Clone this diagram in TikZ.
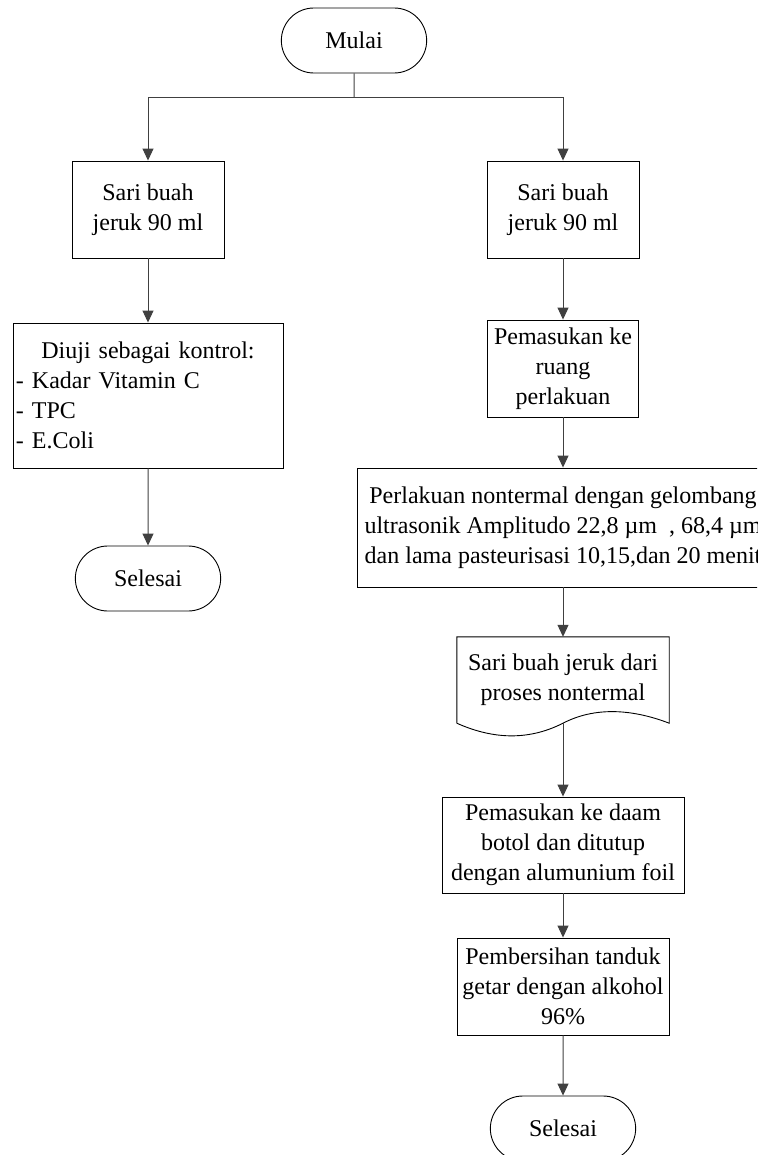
\documentclass[tikz,border=0pt]{standalone}
\usepackage{fontspec}
\setmainfont{Liberation Serif}
\usetikzlibrary{arrows.meta}
\usetikzlibrary{shapes.misc}

\tikzset{
  proses/.style={draw=black, line width=0.9pt, rectangle, align=center, inner sep=2pt},
  terminal/.style={draw=black, line width=0.9pt, rounded rectangle, align=center,
    minimum width=152pt, minimum height=65pt},
  garis/.style={draw=black!75, line width=1pt},
  panah/.style={garis, -{Triangle[length=12pt,width=11pt]}}
}

\begin{document}
\begin{tikzpicture}[x=1pt,y=-1pt,font=\fontsize{24}{30}\selectfont]

    \useasboundingbox (0,0) rectangle (757,1155);
    \clip (0,0) rectangle (757,1155);

    % start
    \node[terminal] (mulai) at (354,40.5) {Mulai};
    \coordinate (cabang) at (354,98);

    % left branch (control)
    \node[proses, minimum width=152pt, minimum height=97pt] (sari1) at (148,209.5)
      {Sari buah\\jeruk 90 ml};
    \node[proses, minimum width=270pt, minimum height=145pt, text width=264pt, align=left] (kontrol) at (148,395.5)
      {\hfil Diuji sebagai kontrol:\hfil\\- Kadar Vitamin C\\- TPC\\- E.Coli};
    \node[terminal] (selesai1) at (148,578.5) {Selesai};

    % right branch (treatment)
    \node[proses, minimum width=152pt, minimum height=97pt] (sari2) at (563,209.5)
      {Sari buah\\jeruk 90 ml};
    \node[proses, minimum width=151pt, minimum height=97pt] (masuk) at (563,368.5)
      {Pemasukan ke\\ruang\\perlakuan};
    \node[proses, minimum width=412pt, minimum height=119pt] (perlakuan) at (563,527.5)
      {Perlakuan nontermal dengan gelombang\\ultrasonik Amplitudo 22,8 µm~ , 68,4 µm\\dan lama pasteurisasi 10,15,dan 20 menit};

    % document shape with wavy bottom
    \node[align=center, minimum width=212pt, minimum height=86pt, inner sep=0pt] (dokumen) at (563,680)
      {Sari buah jeruk dari\\proses nontermal};
    \draw[line width=0.9pt] (dokumen.south west) -- (dokumen.north west) -- (dokumen.north east)
      -- (dokumen.south east)
      .. controls (640,712) and (600,704) .. (dokumen.south)
      .. controls (526,742) and (490,738) .. (dokumen.south west);

    \node[proses, minimum width=242pt, minimum height=96pt] (botol) at (563,845)
      {Pemasukan ke daam\\botol dan ditutup\\dengan alumunium foil};
    \node[proses, minimum width=212pt, minimum height=97pt] (bersih) at (563,986.5)
      {Pembersihan tanduk\\getar dengan alkohol\\96\%};
    \node[terminal] (selesai2) at (563,1128.5) {Selesai};

    % connectors
    \draw[garis] (mulai) -- (cabang);
    \draw[panah] (cabang) -| (sari1);
    \draw[panah] (cabang) -| (sari2);
    \draw[panah] (sari1) -- (kontrol);
    \draw[panah] (kontrol) -- (selesai1);
    \draw[panah] (sari2) -- (masuk);
    \draw[panah] (masuk) -- (perlakuan);
    \draw[panah] (perlakuan) -- (dokumen.north);
    \draw[panah] (dokumen.south) -- (botol);
    \draw[panah] (botol) -- (bersih);
    \draw[panah] (bersih) -- (selesai2);
  \end{tikzpicture}
\end{document}
